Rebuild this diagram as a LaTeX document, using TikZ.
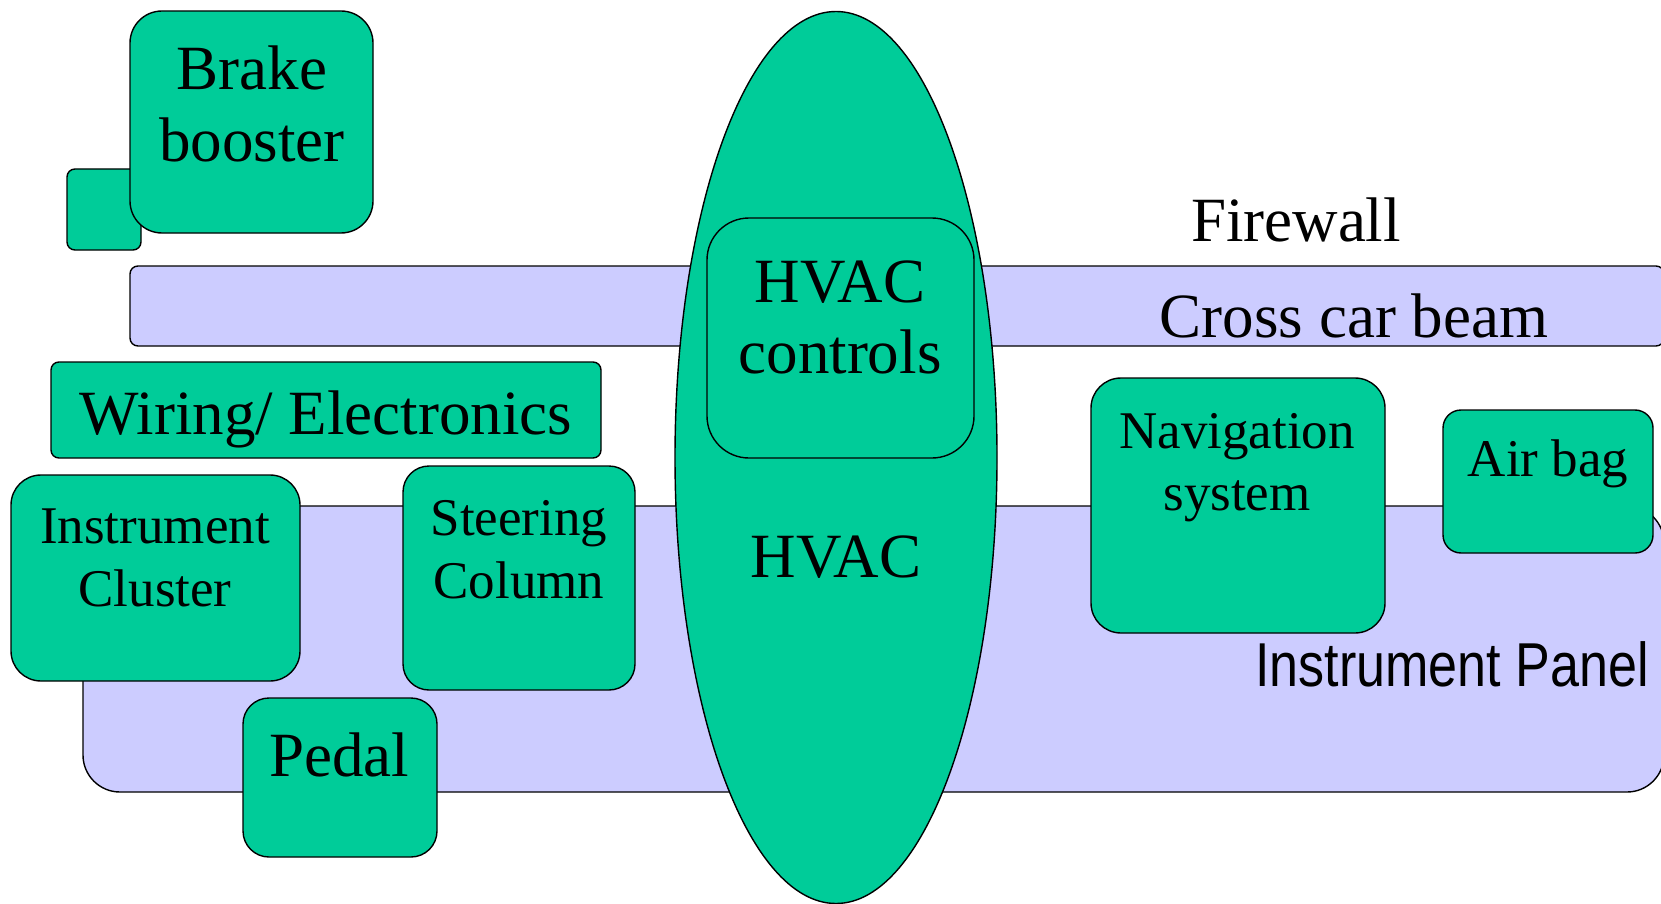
\documentclass[tikz,border=0pt]{standalone}
\usepackage{fontspec}
\usepackage{graphicx}
\setmainfont{Liberation Serif}
\newfontfamily\panelfont{Liberation Sans}
\usetikzlibrary{shapes.geometric}
\definecolor{partgreen}{HTML}{00CC99}
\definecolor{lav}{HTML}{CCCCFF}
\tikzset{
  part/.style={draw=black, line width=1.4pt, fill=partgreen, rectangle, inner sep=0pt},
  band/.style={draw=black, line width=1.4pt, fill=lav, rectangle, inner sep=0pt},
  big/.style={inner sep=0pt, anchor=base, font=\fontsize{63}{72}\selectfont},
  mid/.style={inner sep=0pt, anchor=base, font=\fontsize{53}{62}\selectfont},
}
\begin{document}
\begin{tikzpicture}[x=1pt,y=-1pt]
\useasboundingbox (0,0) rectangle (1661,904);
% bands
\node[band, rounded corners=8pt, minimum width=1534pt, minimum height=80pt] (beam) at (897,306) {};
\node[band, rounded corners=37pt, minimum width=1581pt, minimum height=286pt] (panel) at (873.5,649) {};
% parts
\node[part, rounded corners=8pt, minimum width=550pt, minimum height=96pt] (wiring) at (326,410) {};
\node[part, rounded corners=30pt, minimum width=289pt, minimum height=206pt] (cluster) at (155.5,578) {};
\node[part, rounded corners=26pt, minimum width=232pt, minimum height=224pt] (steering) at (519,578) {};
\node[part, rounded corners=26pt, minimum width=194pt, minimum height=159pt] (pedal) at (340,777.5) {};
\node[part, rounded corners=30pt, minimum width=294pt, minimum height=255pt] (nav) at (1238,505.5) {};
\node[part, rounded corners=18pt, minimum width=210pt, minimum height=143pt] (airbag) at (1548,481.5) {};
\node[part, rounded corners=8pt, minimum width=74pt, minimum height=81pt] (small) at (104,209.5) {};
\node[part, rounded corners=32pt, minimum width=243pt, minimum height=222pt] (brake) at (251.5,122) {};
\node[part, ellipse, minimum width=322pt, minimum height=892pt] (hvac) at (836,457.5) {};
\node[part, rounded corners=42pt, minimum width=267pt, minimum height=240pt] (hvacctl) at (840.5,338) {};
% texts
\node[big] (tbrake1) at (252,90) {Brake};
\node[big] (tbrake2) at (252,162) {booster};
\node[big] (tfire) at (1296,241) {Firewall};
\node[big] (tbeam) at (1354,337) {Cross car beam};
\node[big] (tctl1) at (840,302) {HVAC};
\node[big] (tctl2) at (840,373) {controls};
\node[big] (thvac) at (836,577) {HVAC};
\node[big] (twiring) at (326,434) {Wiring/ Electronics};
\node[mid] (tclu1) at (155,543) {Instrument};
\node[mid] (tclu2) at (155,606) {Cluster};
\node[mid] (tste1) at (519,535) {Steering};
\node[mid] (tste2) at (519,598) {Column};
\node[big] (tpedal) at (339,776) {Pedal};
\node[mid] (tnav1) at (1237,448) {Navigation};
\node[mid] (tnav2) at (1237,510) {system};
\node[mid] (tair) at (1548,476) {Air bag};
\node[inner sep=0pt, anchor=base east, font=\panelfont\fontsize{62}{70}\selectfont] (tpanel) at (1649,686) {\scalebox{0.84}[1]{Instrument Panel}};
\end{tikzpicture}
\end{document}
